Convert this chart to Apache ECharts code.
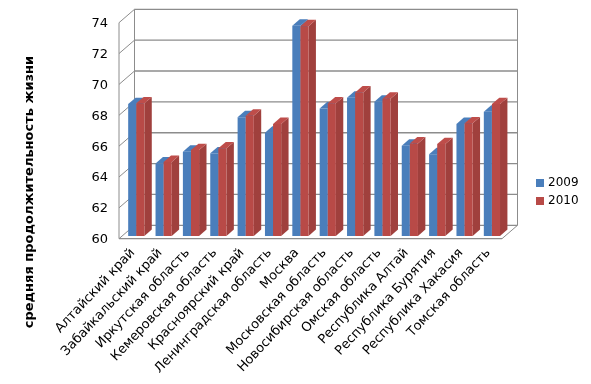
<!DOCTYPE html>
<html><head><meta charset="utf-8">
<style>html,body{margin:0;padding:0;background:#fff}#c{width:591px;height:384px}</style>
<script src="https://cdn.jsdelivr.net/npm/echarts@6/dist/echarts.min.js"></script>
</head><body><div id="c"></div>
<script>
const categories = ["Алтайский край","Забайкальский край","Иркутская область","Кемеровская область","Красноярский край","Ленинградская область","Москва","Московская область","Новосибирская область","Омская область","Республика Алтай","Республика Бурятия","Республика Хакасия","Томская область"];
const values2009 = [68.55,64.7,65.46,65.36,67.7,66.7,73.63,68.27,68.96,68.7,65.85,65.3,67.26,68.06];
const values2010 = [68.6,64.8,65.57,65.68,67.8,67.26,73.6,68.6,69.3,68.9,66.0,65.96,67.3,68.55];
const yTicks = [60,62,64,66,68,70,72,74];
const yTitle = "средняя продолжительность жизни";

const wallDx = 15.5, wallDy = 13.4, lineColor = '#8c8c8c';
const chart = echarts.init(document.getElementById('c'), null, {renderer:'canvas'});

function line(x1,y1,x2,y2,w,color){
  return {type:'line',shape:{x1,y1,x2,y2},style:{stroke:color||lineColor,lineWidth:w||1,fill:null}};
}
function wallItem(params, api){
  const v = api.value(0);
  const last = categories.length - 1;
  const p = api.coord([0, v]);
  const band = api.size([1, 0])[0];
  const x0 = p[0] - band/2, y = p[1];
  const x1 = api.coord([last, v])[0] + band/2;
  const kids = [
    line(x0,y,x0+wallDx,y-wallDy,1),
    line(x0+wallDx,y-wallDy,x1+wallDx,y-wallDy,1.3)
  ];
  if (v === yTicks[0]) {
    const top = api.coord([0, yTicks[yTicks.length-1]])[1];
    kids.push(line(x0+wallDx,y-wallDy,x0+wallDx,top-wallDy,1));
    kids.push(line(x1+wallDx,y-wallDy,x1+wallDx,top-wallDy,1));
    kids.push(line(x1,y,x1+wallDx,y-wallDy,1));
    kids.push(line(x0,y,x1,y,1.3));
    kids.push(line(x0,y,x0,top,1));
  }
  return {type:'group',children:kids};
}
function barItem(colors, offset){
  return function(params, api){
    const c = api.value(0), v = api.value(1);
    const top = api.coord([c, v]), base = api.coord([c, yTicks[0]]);
    const w = 8.1, dx = 7.4, dy = 6.4, sx = 3.6, sy = -2.7;
    const xL = top[0] + sx + offset*w, xR = xL + w;
    const yT = top[1] + sy, yB = base[1] + sy;
    return {type:'group',children:[
      {type:'polygon',shape:{points:[[xR,yT],[xR+dx,yT-dy],[xR+dx,yB-dy],[xR,yB]]},style:{fill:colors.side}},
      {type:'polygon',shape:{points:[[xL,yT],[xL+dx,yT-dy],[xR+dx,yT-dy],[xR,yT]]},style:{fill:colors.top}},
      {type:'rect',shape:{x:xL,y:yT,width:w,height:yB-yT},style:{fill:colors.front}}
    ]};
  };
}
const blue = {front:'#4a7ebb',side:'#3f6da3',top:'#4a7ebb'};
const red  = {front:'#b84a47',side:'#a0403d',top:'#be4d4a'};

chart.setOption({
  animation:false,
  backgroundColor:'#fff',
  textStyle:{fontFamily:'DejaVu Sans'},
  grid:{left:119,top:22.7,width:383,height:216},
  legend:{
    data:['2009','2010'],orient:'vertical',left:531,top:172,
    itemWidth:8,itemHeight:8,itemGap:6,icon:'rect',
    textStyle:{fontFamily:'DejaVu Sans',fontSize:12,color:'#000',padding:[0,0,0,-1]}
  },
  xAxis:{
    type:'category',data:categories,
    axisLine:{show:false},axisTick:{show:false},splitLine:{show:false},
    axisLabel:{rotate:47,interval:0,margin:12,fontFamily:'DejaVu Sans',fontSize:13,color:'#000'}
  },
  yAxis:{
    type:'value',min:60,max:74,interval:2,
    axisLine:{show:false},axisTick:{show:false},splitLine:{show:false},
    axisLabel:{margin:11,verticalAlign:'top',lineHeight:2,fontFamily:'DejaVu Sans',fontSize:13,color:'#000'}
  },
  graphic:[{
    type:'text',x:30,y:192,rotation:Math.PI/2,
    style:{text:yTitle,fontFamily:'DejaVu Sans',fontSize:13,fontWeight:'bold',fill:'#000',align:'center',verticalAlign:'middle'}
  }],
  series:[
    {type:'custom',name:'walls',silent:true,clip:false,z:1,coordinateSystem:'cartesian2d',
      data:yTicks.map(t=>[t]),encode:{y:0},renderItem:wallItem},
    {type:'custom',name:'2009',clip:false,z:2,itemStyle:{color:blue.front},
      data:values2009.map((v,i)=>[i,v]),encode:{x:0,y:1},renderItem:barItem(blue,-1)},
    {type:'custom',name:'2010',clip:false,z:3,itemStyle:{color:red.front},
      data:values2010.map((v,i)=>[i,v]),encode:{x:0,y:1},renderItem:barItem(red,0)}
  ]
});
</script></body></html>
